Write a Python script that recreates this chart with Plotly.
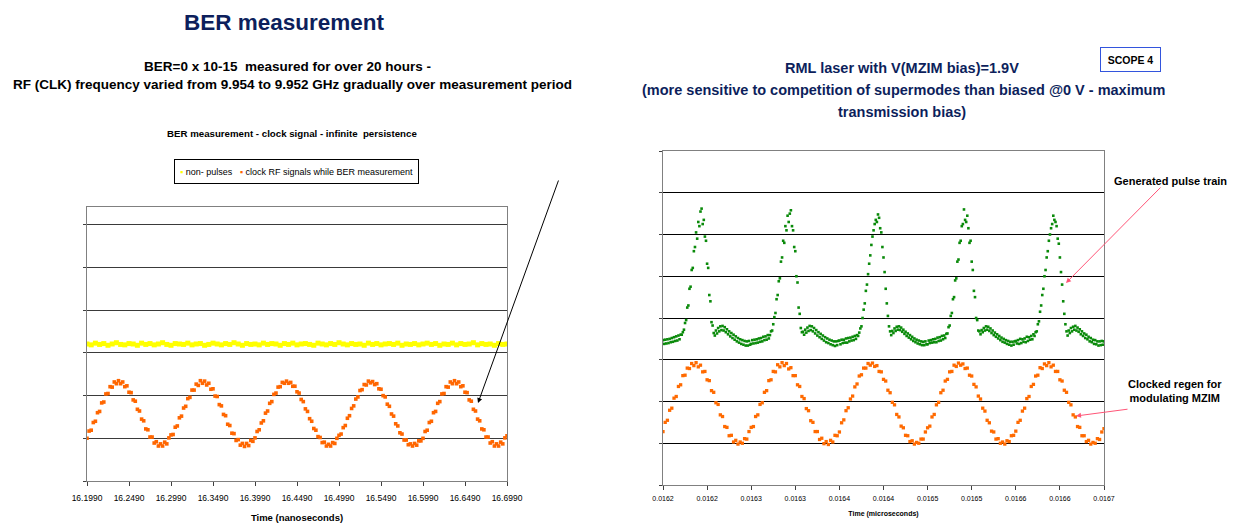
import numpy as np
import plotly.graph_objects as go

W, H = 1237, 527

# ---------------- data ----------------
# Left chart: time in nanoseconds
left_t0 = 16.199
left_clock_dt = 0.0025
left_clock = [
    1.00, 1.17, 1.19, 1.37, 1.40, 1.60, 1.63, 1.83, 1.85, 2.04, 2.05, 2.21, 2.20, 2.32, 2.28, 2.35, 2.28, 2.32, 2.21, 2.23,
    2.08, 2.07, 1.90, 1.87, 1.68, 1.64, 1.45, 1.41, 1.22, 1.20, 1.03, 1.03, 0.89, 0.92, 0.82, 0.87, 0.82, 0.91, 0.87, 1.01,
    1.08, 1.09, 1.26, 1.29, 1.48, 1.52, 1.71, 1.75, 1.93, 1.96, 2.13, 2.13, 2.27, 2.24, 2.35, 2.29, 2.34, 2.25, 2.29, 2.15,
    2.16, 1.99, 1.98, 1.79, 1.76, 1.56, 1.53, 1.33, 1.30, 1.12, 1.11, 0.95, 0.97, 0.84, 0.88, 0.81, 0.88, 0.83, 0.95, 0.93,
    1.01, 1.16, 1.20, 1.36, 1.41, 1.59, 1.64, 1.82, 1.86, 2.03, 2.06, 2.20, 2.21, 2.31, 2.29, 2.34, 2.29, 2.31, 2.22, 2.22,
    2.09, 2.06, 1.91, 1.86, 1.69, 1.63, 1.46, 1.40, 1.23, 1.19, 1.04, 1.02, 0.90, 0.91, 0.82, 0.86, 0.82, 0.90, 0.88, 1.00,
    1.07, 1.10, 1.25, 1.30, 1.47, 1.53, 1.70, 1.76, 1.92, 1.97, 2.12, 2.14, 2.26, 2.25, 2.34, 2.30, 2.33, 2.26, 2.28, 2.16,
    2.15, 2.00, 1.97, 1.80, 1.75, 1.57, 1.52, 1.34, 1.29, 1.13, 1.10, 0.96, 0.96, 0.85, 0.87, 0.82, 0.88, 0.84, 0.94, 0.94,
    1.00, 1.16, 1.19, 1.37, 1.40, 1.60, 1.63, 1.82, 1.86, 2.04, 2.05, 2.21, 2.20, 2.32, 2.28, 2.35, 2.28, 2.32, 2.21, 2.23,
    2.08, 2.07, 1.90, 1.87, 1.68, 1.64, 1.45, 1.41, 1.22, 1.20, 1.03, 1.03, 0.89, 0.92, 0.82, 0.87, 0.82, 0.91, 0.87, 1.01,
    1.06,
]
left_nonpulse_dt = 0.005
left_nonpulse = [
    3.21, 3.19, 3.23, 3.20, 3.22, 3.18, 3.21, 3.24, 3.20, 3.19,
    3.22, 3.21, 3.18, 3.23, 3.20, 3.22, 3.19, 3.21, 3.24, 3.20,
    3.18, 3.22, 3.21, 3.20, 3.23, 3.19, 3.21, 3.22, 3.18, 3.20,
    3.23, 3.21, 3.19, 3.22, 3.20, 3.24, 3.21, 3.18, 3.22, 3.20,
    3.21, 3.19, 3.23, 3.20, 3.22, 3.21, 3.18, 3.22, 3.20, 3.23,
    3.19, 3.21, 3.22, 3.20, 3.18, 3.23, 3.21, 3.19, 3.22, 3.20,
    3.24, 3.21, 3.19, 3.22, 3.20, 3.21, 3.18, 3.23, 3.20, 3.22,
    3.19, 3.21, 3.22, 3.20, 3.23, 3.18, 3.21, 3.20, 3.22, 3.19,
    3.21, 3.23, 3.20, 3.22, 3.18, 3.21, 3.20, 3.23, 3.19, 3.22,
    3.20, 3.21, 3.24, 3.19, 3.22, 3.20, 3.21, 3.18, 3.22, 3.20,
    3.21,
]
left_ticklabels = ["16.1990", "16.2490", "16.2990", "16.3490", "16.3990", "16.4490",
                   "16.4990", "16.5490", "16.5990", "16.6490", "16.6990"]
left_legend_names = ["non- pulses", "clock RF signals while BER measurement"]

# Right chart: time in microseconds
right_t0 = 0.016199
right_clock_dt = 0.0000025
right_clock = [
    1.28, 1.50, 1.55, 1.79, 1.84, 2.08, 2.12, 2.36, 2.40, 2.62, 2.63, 2.80, 2.79, 2.91, 2.86, 2.93, 2.83, 2.87, 2.71, 2.72,
    2.52, 2.50, 2.26, 2.22, 1.97, 1.93, 1.68, 1.64, 1.40, 1.38, 1.18, 1.19, 1.03, 1.07, 0.98, 1.03, 1.00, 1.11, 1.10, 1.28,
    1.38, 1.40, 1.64, 1.68, 1.93, 1.97, 2.22, 2.26, 2.50, 2.52, 2.72, 2.71, 2.88, 2.83, 2.93, 2.86, 2.91, 2.78, 2.81, 2.62,
    2.62, 2.40, 2.36, 2.12, 2.07, 1.83, 1.78, 1.54, 1.50, 1.28, 1.28, 1.09, 1.12, 0.99, 1.04, 0.97, 1.07, 1.03, 1.19, 1.18,
    1.27, 1.49, 1.56, 1.78, 1.85, 2.06, 2.13, 2.35, 2.42, 2.61, 2.64, 2.80, 2.80, 2.91, 2.87, 2.92, 2.84, 2.86, 2.72, 2.71,
    2.53, 2.49, 2.27, 2.21, 1.98, 1.92, 1.69, 1.63, 1.41, 1.37, 1.19, 1.18, 1.04, 1.06, 0.98, 1.02, 1.00, 1.10, 1.10, 1.27,
    1.37, 1.41, 1.63, 1.69, 1.92, 1.98, 2.21, 2.27, 2.49, 2.53, 2.71, 2.72, 2.87, 2.84, 2.92, 2.87, 2.90, 2.79, 2.80, 2.63,
    2.61, 2.41, 2.35, 2.13, 2.06, 1.84, 1.77, 1.55, 1.49, 1.29, 1.27, 1.10, 1.11, 1.00, 1.03, 0.98, 1.06, 1.04, 1.18, 1.19,
    1.29, 1.50, 1.55, 1.77, 1.84, 2.07, 2.12, 2.36, 2.41, 2.61, 2.63, 2.81, 2.79, 2.90, 2.86, 2.93, 2.83, 2.87, 2.72, 2.72,
    2.52, 2.49, 2.27, 2.22, 1.98, 1.92, 1.68, 1.63, 1.40, 1.38, 1.18, 1.18, 1.04, 1.07, 0.98, 1.02, 1.00, 1.11, 1.09, 1.27,
    1.35,
]
right_pulse_dt = 0.00000125
right_pulse = [
    # sweep 1
    3.47, 3.38, 3.48, 3.39, 3.49, 3.40, 3.50, 3.42, 3.52, 3.43, 3.54, 3.45, 3.56, 3.46, 3.58, 3.49, 3.60,
    3.60, 3.66, 3.72, 3.88, 3.95, 4.25, 4.30, 4.70, 4.75, 5.15, 5.20, 5.60, 5.70, 6.05, 5.90,
    6.30, 6.20, 6.55, 6.62, 6.25, 6.35, 5.95, 5.85, 5.30, 5.20, 4.55, 4.40, 3.90, 3.82, 3.64,
    3.58, 3.70, 3.63, 3.76, 3.68, 3.80, 3.71, 3.81, 3.70, 3.78, 3.66, 3.73, 3.61, 3.68, 3.56, 3.64, 3.52,
    3.60, 3.48, 3.56, 3.44, 3.52, 3.41, 3.49, 3.38, 3.47, 3.36, 3.45, 3.34, 3.44, 3.34, 3.45, 3.36,
    # sweep 2
    3.38, 3.47, 3.39, 3.48, 3.40, 3.49, 3.41, 3.51, 3.43, 3.52, 3.44, 3.55, 3.47, 3.56, 3.48, 3.59, 3.51,
    3.59, 3.68, 3.70, 3.85, 4.02, 4.12, 4.45, 4.55, 4.88, 4.95, 5.35, 5.45, 5.85, 5.80, 6.20,
    6.10, 6.45, 6.30, 6.50, 6.58, 6.20, 6.10, 5.70, 5.60, 5.00, 4.85, 4.25, 4.10, 3.76, 3.66,
    3.67, 3.60, 3.72, 3.65, 3.77, 3.69, 3.81, 3.71, 3.80, 3.68, 3.76, 3.63, 3.71, 3.58, 3.66, 3.54, 3.62,
    3.50, 3.58, 3.46, 3.54, 3.42, 3.51, 3.40, 3.48, 3.37, 3.46, 3.35, 3.44, 3.33, 3.44, 3.35, 3.45,
    # sweep 3
    3.46, 3.37, 3.48, 3.40, 3.48, 3.41, 3.51, 3.41, 3.52, 3.44, 3.53, 3.46, 3.55, 3.47, 3.57, 3.50, 3.59,
    3.57, 3.65, 3.75, 3.80, 4.00, 4.20, 4.35, 4.65, 4.80, 5.05, 5.30, 5.50, 5.75, 5.95, 6.10,
    6.25, 6.35, 6.30, 6.48, 6.40, 6.15, 6.05, 5.70, 5.45, 5.10, 4.70, 4.35, 4.05, 3.80, 3.68,
    3.59, 3.69, 3.64, 3.75, 3.69, 3.79, 3.72, 3.80, 3.71, 3.77, 3.67, 3.72, 3.62, 3.67, 3.57, 3.63, 3.53,
    3.59, 3.49, 3.55, 3.45, 3.51, 3.42, 3.48, 3.39, 3.46, 3.37, 3.44, 3.35, 3.43, 3.35, 3.44, 3.37,
    # sweep 4
    3.37, 3.46, 3.40, 3.47, 3.41, 3.49, 3.42, 3.50, 3.42, 3.53, 3.45, 3.54, 3.46, 3.57, 3.49, 3.58, 3.52,
    3.62, 3.63, 3.78, 3.82, 4.05, 4.12, 4.45, 4.50, 4.90, 4.95, 5.35, 5.40, 5.80, 5.85, 6.20,
    6.25, 6.60, 6.35, 6.30, 6.45, 6.15, 5.80, 5.85, 5.35, 5.15, 4.65, 4.50, 4.00, 3.95, 3.70,
    3.68, 3.61, 3.71, 3.66, 3.76, 3.70, 3.80, 3.72, 3.79, 3.69, 3.75, 3.64, 3.70, 3.59, 3.65, 3.55, 3.61,
    3.51, 3.57, 3.47, 3.53, 3.43, 3.50, 3.41, 3.47, 3.38, 3.45, 3.36, 3.43, 3.34, 3.43, 3.36, 3.44,
    # sweep 5
    3.45, 3.39, 3.47, 3.38, 3.50, 3.40, 3.49, 3.43, 3.51, 3.42, 3.55, 3.45, 3.54, 3.48, 3.57, 3.49, 3.61,
    3.57, 3.66, 3.68, 3.85, 3.92, 4.15, 4.30, 4.55, 4.70, 5.00, 5.15, 5.45, 5.60, 5.85, 6.00,
    6.15, 6.25, 6.45, 6.35, 6.30, 6.20, 5.90, 5.78, 5.45, 5.10, 4.80, 4.40, 4.10, 3.85, 3.68,
    3.58, 3.70, 3.64, 3.76, 3.68, 3.79, 3.72, 3.81, 3.70, 3.77, 3.67, 3.73, 3.61, 3.68, 3.57, 3.63, 3.52,
    3.60, 3.49, 3.55, 3.44, 3.52, 3.42, 3.48, 3.38, 3.47, 3.37, 3.44, 3.34, 3.44, 3.35, 3.45, 3.36,
    3.44,
]
right_ticklabels = ["0.0162", "0.0162", "0.0163", "0.0163", "0.0164", "0.0164",
                    "0.0165", "0.0165", "0.0166", "0.0166", "0.0167"]
right_tick_step = 0.00005

# ---------------- figure ----------------
FONT = "Liberation Sans, Arial, sans-serif"
NAVY = "#0d1f5c"
OFF = 8  # page body offset of the plot div, in pixels


def px(x):
    return (x - OFF) / W


def py(y):
    return 1 - (y - OFF) / H


left_clock_t = left_t0 + left_clock_dt * np.arange(len(left_clock))
left_np_t = left_t0 + left_nonpulse_dt * np.arange(len(left_nonpulse))
right_clock_t = right_t0 + right_clock_dt * np.arange(len(right_clock))
right_pulse_t = right_t0 + right_pulse_dt * np.arange(len(right_pulse))

YELLOW, ORANGE, GREEN = "#ffff00", "#ff6600", "#0a8a0a"

fig = go.Figure()
fig.add_trace(go.Scatter(x=left_np_t, y=left_nonpulse, mode="markers", name=left_legend_names[0],
                         marker=dict(color=YELLOW, size=5, symbol="square"),
                         xaxis="x", yaxis="y", showlegend=False))
fig.add_trace(go.Scatter(x=left_clock_t, y=left_clock, mode="markers", name=left_legend_names[1],
                         marker=dict(color=ORANGE, size=3.6, symbol="square"),
                         xaxis="x", yaxis="y", showlegend=False))
fig.add_trace(go.Scatter(x=right_pulse_t, y=right_pulse, mode="markers", showlegend=False,
                         marker=dict(color=GREEN, size=2.6, symbol="square"),
                         xaxis="x2", yaxis="y2"))
fig.add_trace(go.Scatter(x=right_clock_t, y=right_clock, mode="markers", showlegend=False,
                         marker=dict(color="#ff6a00", size=3.3, symbol="square"),
                         xaxis="x2", yaxis="y2"))

left_tickvals = [float(s) for s in left_ticklabels]
right_tickvals = [right_t0 + right_tick_step * k for k in range(len(right_ticklabels))]

axis_common = dict(zeroline=False, mirror=True, linecolor="#808080", linewidth=1,
                   ticks="outside", tickcolor="#404040", automargin=False)

fig.update_layout(
    width=W, height=H, margin=dict(l=0, r=0, t=0, b=0, autoexpand=False),
    paper_bgcolor="white", plot_bgcolor="white",
    font=dict(family=FONT, color="black"),
    showlegend=False,
    xaxis=dict(domain=[px(87), px(507)], range=[16.199, 16.699], anchor="y",
               tickvals=left_tickvals, ticktext=left_ticklabels, ticklen=4, showgrid=False,
               tickfont=dict(size=8.5), ticklabelstandoff=5,
               title=dict(text="<b>Time (nanoseconds)</b>", font=dict(size=9.5), standoff=12),
               **axis_common),
    yaxis=dict(domain=[py(481), py(207)], range=[0, 6.42], anchor="x",
               tickvals=[0, 1, 2, 3, 4, 5, 6], showticklabels=False, ticklen=3,
               showgrid=True, gridcolor="#3a3a3a", gridwidth=1, **axis_common),
    xaxis2=dict(domain=[px(663), px(1104)], range=[0.016199, 0.016699], anchor="y2",
                tickvals=right_tickvals, ticktext=right_ticklabels, ticklen=4, showgrid=False,
                tickfont=dict(size=7), ticklabelstandoff=3,
                title=dict(text="<b>Time (microseconds)</b>", font=dict(size=7), standoff=9),
                **axis_common),
    yaxis2=dict(domain=[py(485), py(151)], range=[0, 8], anchor="x2",
                tickvals=[0, 1, 2, 3, 4, 5, 6, 7, 8], showticklabels=False, ticklen=3,
                showgrid=True, gridcolor="#000000", gridwidth=1, **axis_common),
)

ann = []
ann.append(dict(text="<b>BER measurement</b>", x=px(284), y=py(22), font=dict(size=22.5, color=NAVY)))
ann.append(dict(text="<b>BER=0 x 10-15  measured for over 20 hours -</b>", x=px(287), y=py(66),
                font=dict(size=13.5, color="black")))
ann.append(dict(text="<b>RF (CLK) frequency varied from 9.954 to 9.952 GHz gradually over measurement period</b>",
                x=px(292), y=py(84), font=dict(size=13.5, color="black")))
ann.append(dict(text="<b>BER measurement - clock signal - infinite  persistence</b>", x=px(292), y=py(134),
                font=dict(size=9.7, color="black")))
# legend box of the left chart
legend_text = ("<span style='color:%s'>▪</span> %s   <span style='color:%s'>▪</span> %s"
               % (YELLOW, left_legend_names[0], ORANGE, left_legend_names[1]))
ann.append(dict(text=legend_text, x=px(296.5), y=py(171.5), font=dict(size=9, color="black"),
                bordercolor="#000000", borderwidth=1, borderpad=0, width=243, height=23,
                bgcolor="white"))
ann.append(dict(text="<b>RML laser with V(MZIM bias)=1.9V</b>", x=px(902), y=py(68),
                font=dict(size=14.5, color=NAVY)))
ann.append(dict(text="<b>(more sensitive to competition of supermodes than biased @0 V - maximum</b>",
                x=px(903), y=py(90), font=dict(size=14.5, color=NAVY)))
ann.append(dict(text="<b>transmission bias)</b>", x=px(902), y=py(112), font=dict(size=14.5, color=NAVY)))
ann.append(dict(text="<b>SCOPE 4</b>", x=px(1130), y=py(60), font=dict(size=10.5, color="black"),
                bordercolor="#3355dd", borderwidth=1, borderpad=2, width=55, height=19, bgcolor="white"))
ann.append(dict(text="<b>Generated pulse train</b>", x=px(1170), y=py(181), font=dict(size=11, color="black")))
ann.append(dict(text="<b>Clocked regen for<br>modulating MZIM</b>", x=px(1175), y=py(391),
                font=dict(size=11, color="black")))

for a in ann:
    a.update(xref="paper", yref="paper", showarrow=False, xanchor="center", yanchor="middle")

arrows = [
    dict(x=px(478), y=py(403), ax=559 - 478, ay=179 - 403, arrowcolor="#000000"),
    dict(x=px(1066), y=py(283), ax=1162 - 1066, ay=186 - 283, arrowcolor="#ff5577"),
    dict(x=px(1076), y=py(416), ax=1129 - 1076, ay=409 - 416, arrowcolor="#ff5577"),
]
for a in arrows:
    a.update(xref="paper", yref="paper", text="", showarrow=True, arrowhead=2, arrowsize=1,
             arrowwidth=1, axref="pixel", ayref="pixel", standoff=0, startstandoff=0)
    ann.append(a)

fig.update_layout(annotations=ann)

fig.write_html("out.html")
